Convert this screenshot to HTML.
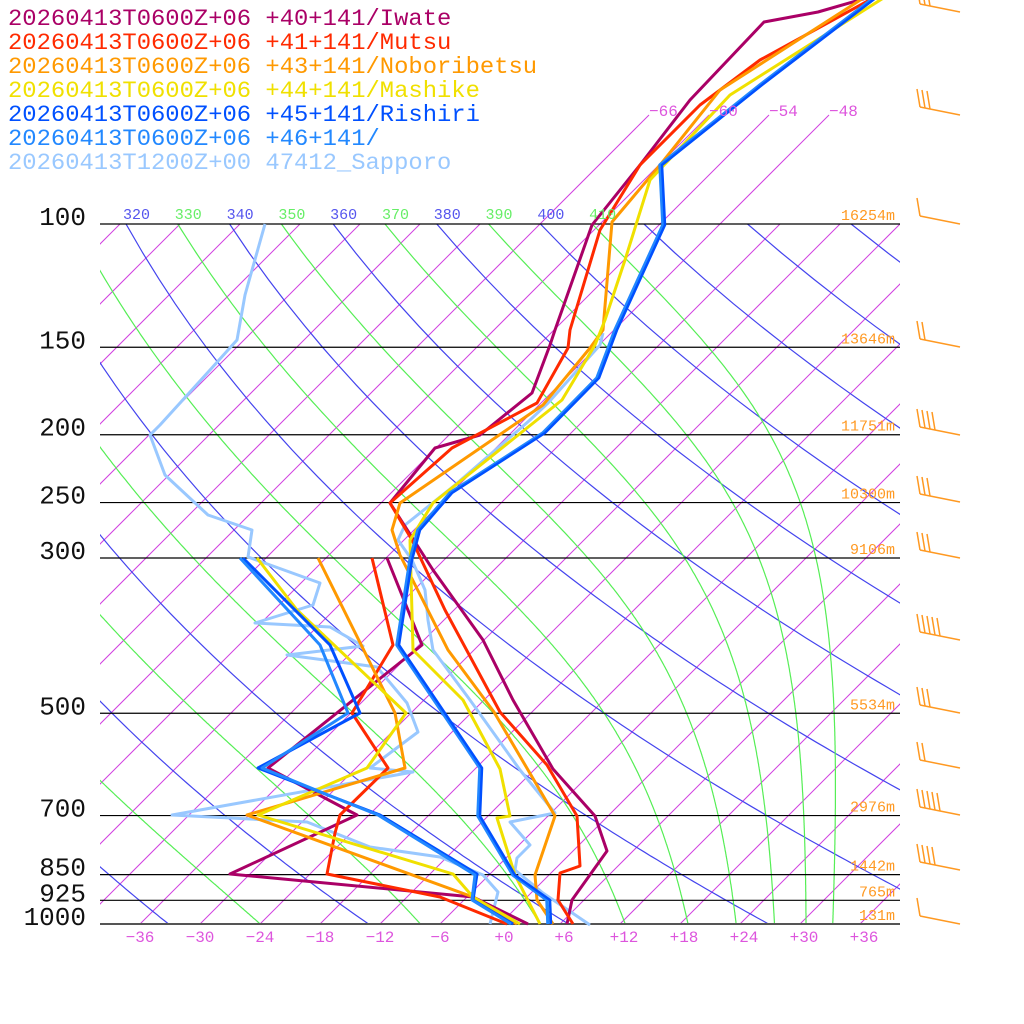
<!DOCTYPE html>
<html><head><meta charset="utf-8">
<style>
html,body{margin:0;padding:0;background:#fff;width:1024px;height:1024px;overflow:hidden}
svg{display:block}
text{font-family:"Liberation Mono","DejaVu Sans Mono",monospace}
</style></head><body>
<svg id="s" width="1024" height="1024" viewBox="0 0 1024 1024" xmlns="http://www.w3.org/2000/svg">
<defs>
<clipPath id="cIso"><rect x="100" y="224" width="800" height="700"/></clipPath>
<clipPath id="cAd"><rect x="100" y="224" width="800" height="700"/></clipPath>
</defs>
<g id="grid"></g>
<g id="series" fill="none" stroke-width="3" stroke-linejoin="round"></g>
<g id="txt"></g>
</svg>
<script>
const NS="http://www.w3.org/2000/svg";
const grid=document.getElementById('grid'),ser=document.getElementById('series'),txt=document.getElementById('txt');
function el(p,tag,a,t){const e=document.createElementNS(NS,tag);for(const k in a)e.setAttribute(k,a[k]);if(t!==undefined)e.textContent=t;p.appendChild(e);return e;}
function Y(p){return 924-700*Math.log10(1000/p);}
function X(T,p){const y=Y(p);return 500+10*T+(924-y);}
const gi=el(grid,'g',{'clip-path':'url(#cIso)',stroke:'#d040e0','stroke-width':1});
for(let T=-150;T<=42;T+=6){el(gi,'line',{x1:500+10*T,y1:924,x2:500+10*T+809,y2:115});}
for(const T of [-66,-60,-54,-48]){el(grid,'line',{x1:500+10*T+700,y1:224,x2:500+10*T+809,y2:115,stroke:'#d040e0','stroke-width':1});}
const ga=el(grid,'g',{'clip-path':'url(#cAd)',fill:'none','stroke-width':1.2});
for(let th=200;th<=480;th+=20){let d='';for(let p=100;p<=1000;p+=10){const T=th*Math.pow(p/1000,0.2857)-273.15;d+=(d?'L':'M')+X(T,p).toFixed(1)+','+Y(p).toFixed(1);}el(ga,'path',{d:d,stroke:'#4444ee'});}
function es(Tc){return 6.112*Math.exp(17.67*Tc/(Tc+243.5));}
for(let th=250;th<=410;th+=20){let T=th*Math.pow(0.1,0.2857);let d='';const Rd=287,cp=1004,L=2.5e6,eps=0.622;
 for(let p=100;p<=1000;p+=2){d+=(d?'L':'M')+X(T-273.15,p).toFixed(1)+','+Y(p).toFixed(1);
  const e=es(T-273.15);const rs=eps*e/(p-e);const dTdp=(Rd*T+L*rs)/(p*(cp+L*L*rs*eps/(Rd*T*T)));T+=dTdp*2;}
 el(ga,'path',{d:d,stroke:'#55ee55'});}
for(let th=300;th<=410;th+=10){const T=th*Math.pow(0.1,0.2857)-273.15;const x=X(T,100);
 const col=(th%20==0)?'#5555ee':'#66ee66';el(txt,'text',{x:x-3,y:219,'font-size':15,fill:col},String(th));}
el(txt,'rect',{x:0,y:200,width:100,height:22,fill:'#fff'});
const levels=[[100,'16254m'],[150,'13646m'],[200,'11751m'],[250,'10300m'],[300,'9106m'],[500,'5534m'],[700,'2976m'],[850,'1442m'],[925,'765m'],[1000,'131m']];
for(const [p,h] of levels){const y=Y(p);el(grid,'line',{x1:100,y1:y,x2:900,y2:y,stroke:p==1000?'#555':'#000','stroke-width':p==1000?2:1.2});
 el(txt,'text',{x:86,y:y+1,'font-size':26,fill:'#111','text-anchor':'end'},String(p));
 el(txt,'text',{x:895,y:y-4,'font-size':15,fill:'#ff9922','text-anchor':'end'},h);}
for(let T=-36;T<=36;T+=6){el(txt,'text',{x:500+10*T+(T>=0?4:0),y:942,'font-size':16,fill:'#dd55dd','text-anchor':'middle'},(T>=0?'+':'\u2212')+Math.abs(T));}
for(const T of [-66,-60,-54,-48]){el(txt,'text',{x:500+10*T+809,y:116,'font-size':16,fill:'#dd55dd'},'\u2212'+(-T));}
function pl(pts,c,w){el(ser,'polyline',{points:pts.map(p=>p.join(',')).join(' '),stroke:c,'stroke-width':w||3});}
const C={iw:'#aa0066',mu:'#ff2a00',no:'#ff9900',ma:'#f0e000',ri:'#0050ff',n46:'#2288ff',sa:'#99c8ff'};
pl([[265,224],[245,295],[237,340],[210,370],[160,425],[150,435],[165,475],[208,515],[252,530],[248,557],[320,583],[313,605],[255,623],[330,627],[363,646],[287,655],[377,667],[407,703],[418,732],[370,768],[413,772],[172,815],[307,822],[370,847],[440,857],[483,875],[498,892],[490,924]],C.sa);
pl([[387,558],[422,645],[268,768],[357,815],[230,874],[473,897],[528,924]],C.iw);
pl([[372,558],[393,645],[352,713],[388,768],[340,815],[335,833],[327,874],[440,897],[507,924]],C.mu);
pl([[318,558],[395,713],[405,768],[247,815],[473,897],[517,924]],C.no);
pl([[257,558],[297,610],[406,713],[367,768],[258,815],[453,874],[473,897],[520,924]],C.ma);
pl([[243,558],[330,645],[360,713],[258,768],[333,797],[380,815],[477,874],[473,900],[513,924]],C.ri);
pl([[240,558],[320,645],[348,713],[262,768],[333,797],[378,815],[475,875],[472,900],[511,924]],C.n46);
pl([[603,333],[600,345],[548,403],[530,420],[455,485],[405,525],[398,540],[412,560],[425,590],[428,620],[433,650],[470,700],[520,770],[555,813],[510,822],[530,845],[517,858],[515,870],[543,893],[590,925]],C.sa);
pl([[870,-3],[818,12],[764,22],[690,100],[640,165],[592,225],[555,330],[550,345],[532,393],[480,435],[435,448],[390,503],[433,570],[483,640],[513,700],[553,769],[595,816],[607,851],[572,900],[567,924]],C.iw);
pl([[875,-3],[760,60],[700,105],[640,165],[600,230],[570,330],[568,348],[537,403],[452,448],[390,503],[412,540],[445,610],[500,712],[547,765],[577,816],[580,866],[560,873],[558,900],[573,924]],C.mu);
pl([[865,-3],[720,90],[660,165],[612,222],[603,330],[590,348],[543,405],[400,503],[392,530],[400,555],[448,650],[494,712],[555,816],[535,875],[537,900],[553,924]],C.no);
pl([[885,-3],[730,95],[650,180],[625,260],[605,320],[595,345],[562,400],[433,503],[410,540],[413,650],[463,700],[500,769],[510,816],[497,818],[515,875],[540,924]],C.ma);
pl([[875,-3],[760,85],[660,165],[663,225],[615,330],[597,378],[543,433],[450,493],[418,530],[410,560],[397,645],[480,768],[478,816],[513,875],[547,900],[548,924]],C.n46,3.5);
pl([[877,-3],[762,85],[662,165],[665,225],[617,330],[599,378],[545,433],[452,493],[420,530],[412,560],[399,645],[482,768],[480,816],[515,875],[550,900],[551,924]],C.ri,2.5);
const leg=[['20260413T0600Z+06 +40+141/Iwate',C.iw],['20260413T0600Z+06 +41+141/Mutsu',C.mu],['20260413T0600Z+06 +43+141/Noboribetsu',C.no],['20260413T0600Z+06 +44+141/Mashike',C.ma],['20260413T0600Z+06 +45+141/Rishiri',C.ri],['20260413T0600Z+06 +46+141/',C.n46],['20260413T1200Z+00 47412_Sapporo',C.sa]];
leg.forEach((l,i)=>el(txt,'text',{x:8,y:25+i*24,'font-size':23,fill:l[1],textLength:l[0].length*14.3,lengthAdjust:'spacingAndGlyphs'},l[0]));
const wb=el(grid,'g',{stroke:'#ff9922','stroke-width':1.5,fill:'none'});
const barbs=[[12,3],[115,3],[224,1],[347,2],[435,4],[502,3],[558,3],[640,5],[713,3],[768,2],[815,5],[870,4],[924,1]];
for(const [y,n] of barbs){el(wb,'line',{x1:960,y1:y,x2:920,y2:y-8});for(let k=0;k<n;k++){const bx=920+k*5,by=y-8+k;el(wb,'line',{x1:bx,y1:by,x2:bx-3,y2:by-18});}}
</script>
</body></html>
